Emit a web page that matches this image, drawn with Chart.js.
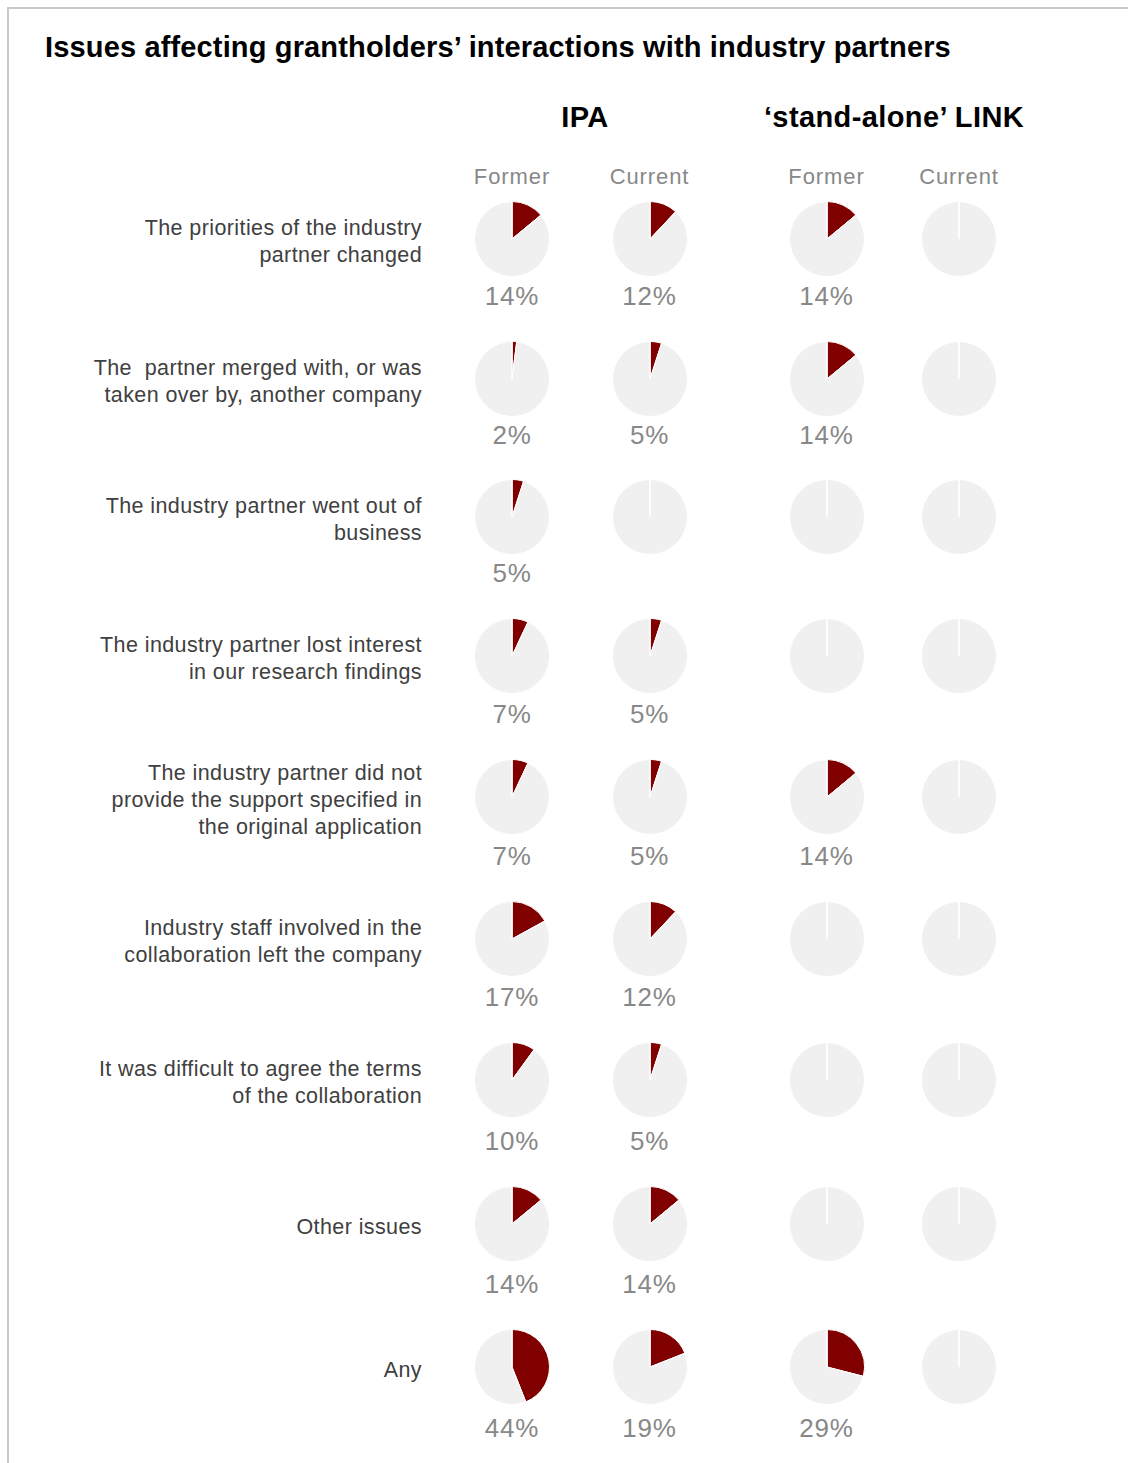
<!DOCTYPE html>
<html>
<head>
<meta charset="utf-8">
<script src="https://cdn.jsdelivr.net/npm/chart.js@4.4.0/dist/chart.umd.min.js"></script>
<style>
  body { margin: 0; background: #fff; font-family: "Liberation Sans", Arial, sans-serif; }
  #wrap { position: relative; width: 1128px; height: 1463px; overflow: hidden; }
  #frame { position: absolute; left: 7px; top: 7px; width: 1200px; height: 1500px;
           border-left: 2px solid #c9c9c9; border-top: 2px solid #c9c9c9; }
  .title { position: absolute; left: 45px; top: 31px; font-size: 29px; font-weight: bold; color: #000; white-space: nowrap; letter-spacing: 0.15px; }
  .group { position: absolute; font-size: 29px; font-weight: bold; color: #000; white-space: nowrap; transform: translateX(-50%); letter-spacing: 0.4px; }
  .sub { position: absolute; top: 164px; font-size: 22px; color: #888; transform: translateX(-50%); white-space: nowrap; letter-spacing: 0.9px; }
  .rowlab { position: absolute; right: 706px; font-size: 21.5px; line-height: 27px; color: #404040; text-align: right;
            white-space: pre; transform: translateY(-50%); letter-spacing: 0.4px; }
  .pct { position: absolute; font-size: 26px; color: #888; transform: translate(-50%, -50%); white-space: nowrap; letter-spacing: 0.8px; }
  .cell { position: absolute; width: 80px; height: 80px; }
</style>
</head>
<body>
<div id="wrap">
  <div id="frame"></div>
  <div class="title">Issues affecting grantholders’ interactions with industry partners</div>
  <div class="group" style="left:585px; top:101px;">IPA</div>
  <div class="group" style="left:894px; top:101px;">‘stand-alone’ LINK</div>
</div>
<script>
// Survey issues and the share of grantholders reporting each one (%)
const issues = [
  'The priorities of the industry\npartner changed',
  'The  partner merged with, or was\ntaken over by, another company',
  'The industry partner went out of\nbusiness',
  'The industry partner lost interest\nin our research findings',
  'The industry partner did not\nprovide the support specified in\nthe original application',
  'Industry staff involved in the\ncollaboration left the company',
  'It was difficult to agree the terms\nof the collaboration',
  'Other issues',
  'Any'
];
const columns = ['Former', 'Current', 'Former', 'Current'];
const ipaFormer = [14, 2, 5, 7, 7, 17, 10, 14, 44];
const ipaCurrent = [12, 5, 0, 5, 5, 12, 5, 14, 19];
const linkFormer = [14, 14, 0, 0, 14, 0, 0, 0, 29];
const linkCurrent = [0, 0, 0, 0, 0, 0, 0, 0, 0];
const series = [ipaFormer, ipaCurrent, linkFormer, linkCurrent];

// layout
const colX = [512, 649.5, 826.5, 959];
const rowY = [239, 379, 517, 656, 797, 939, 1080, 1224, 1367];
const pctY = [296, 435, 573, 714, 856, 997, 1141, 1284, 1428];

const wrap = document.getElementById('wrap');

columns.forEach((name, c) => {
  const d = document.createElement('div');
  d.className = 'sub';
  d.style.left = colX[c] + 'px';
  d.textContent = name;
  wrap.appendChild(d);
});

// white radial line at 12 o'clock (shown on empty pies too)
const startLine = {
  id: 'startLine',
  afterDatasetsDraw(chart) {
    const arc = chart.getDatasetMeta(0).data[1];
    if (!arc) return;
    const ctx = chart.ctx;
    ctx.save();
    ctx.strokeStyle = '#ffffff';
    ctx.lineWidth = 1.2;
    ctx.beginPath();
    ctx.moveTo(arc.x, arc.y);
    ctx.lineTo(arc.x, arc.y - arc.outerRadius);
    ctx.stroke();
    ctx.restore();
  }
};

issues.forEach((txt, r) => {
  const lab = document.createElement('div');
  lab.className = 'rowlab';
  lab.style.top = (rowY[r] + 2.5) + 'px';
  lab.textContent = txt;
  wrap.appendChild(lab);

  series.forEach((vals, c) => {
    const v = vals[r];
    const cell = document.createElement('div');
    cell.className = 'cell';
    cell.style.left = (colX[c] - 40) + 'px';
    cell.style.top = (rowY[r] - 40) + 'px';
    const cv = document.createElement('canvas');
    cv.width = 80; cv.height = 80;
    cell.appendChild(cv);
    wrap.appendChild(cell);

    new Chart(cv.getContext('2d'), {
      type: 'pie',
      data: {
        labels: ['Yes', 'No'],
        datasets: [{
          data: [v, 100 - v],
          backgroundColor: ['#800000', '#f0f0f0'],
          borderColor: '#ffffff',
          borderWidth: 1
        }]
      },
      options: {
        responsive: false,
        animation: false,
        layout: { padding: 2 },
        plugins: { legend: { display: false }, tooltip: { enabled: false } }
      },
      plugins: [startLine]
    });

    if (v > 0) {
      const p = document.createElement('div');
      p.className = 'pct';
      p.style.left = colX[c] + 'px';
      p.style.top = pctY[r] + 'px';
      p.textContent = v + '%';
      wrap.appendChild(p);
    }
  });
});
</script>
</body>
</html>
